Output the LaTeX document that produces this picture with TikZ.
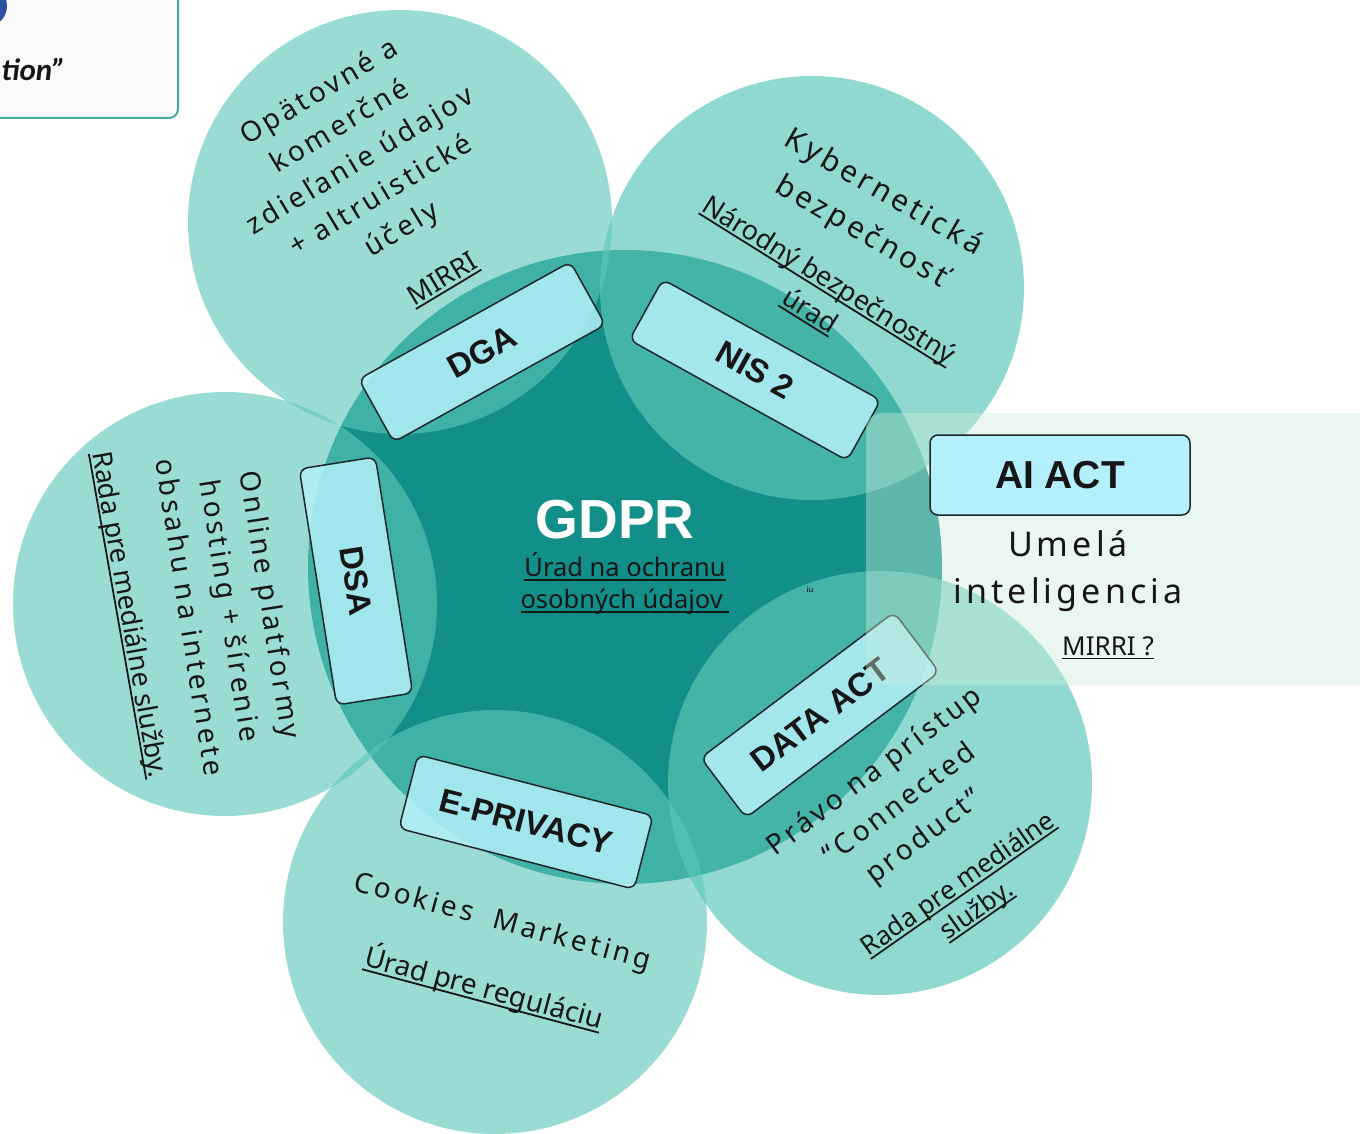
\documentclass[tikz,border=0pt]{standalone}
\usepackage{fontspec}
\setmainfont{Noto Sans}
\newfontfamily\trkfont[LetterSpace=12]{Noto Sans}
\newfontfamily\labfont{Liberation Sans}
\newfontfamily\calfont{Carlito}
\definecolor{centerc}{RGB}{18,143,136}
\definecolor{outerc}{RGB}{92,199,186}
\definecolor{lblc}{RGB}{180,240,250}
\definecolor{aic}{RGB}{179,240,252}
\definecolor{panelc}{RGB}{204,236,219}
\definecolor{txt}{RGB}{22,22,22}
\definecolor{boxline}{RGB}{30,40,40}
\definecolor{tlborder}{RGB}{64,170,164}
\definecolor{logoblue}{RGB}{45,80,160}
\newcommand\myul[1]{\setbox0=\hbox{#1}\rlap{\rule[-0.16em]{\wd0}{0.065em}}\box0}
\begin{document}
\begin{tikzpicture}[x=1pt,y=-1pt,
  outer/.style={circle,minimum size=424pt,inner sep=0pt,fill=outerc,fill opacity=#1,draw=none},
  outer/.default=0.62,
  lbl/.style={draw=boxline,line width=1.5pt,fill=lblc,fill opacity=0.85,text opacity=1,
    rounded corners=8pt,inner sep=0pt,text=txt,font=\labfont\bfseries\fontsize{33}{36}\selectfont},
  trkt/.style={align=center,inner sep=0pt,text=txt,font=\trkfont\fontsize{28}{40}\selectfont},
  agency/.style={align=center,inner sep=0pt,text=txt,font=\fontsize{26}{33}\selectfont}]
\useasboundingbox (0,0) rectangle (1360,1134);
\clip (0,0) rectangle (1360,1134);
% top-left partial box
\draw[fill={rgb,255:red,250;green,250;blue,250},draw=tlborder,line width=2pt,rounded corners=9pt] (-30,-30) rectangle (178,118);
\fill[logoblue] (-14,6) circle (21);
\node[anchor=base east,inner sep=0pt,text=txt,font=\calfont\bfseries\itshape\fontsize{31}{34}\selectfont] (tion) at (66,81) {tion”};
% central circle
\node[circle,minimum size=634pt,inner sep=0pt,fill=centerc] (gdprc) at (625,567) {};
% outer circles
\node[outer] (c1) at (400,222) {};
\node[outer=0.68] (c2) at (812,288) {};
\node[outer] (c3) at (225,604) {};
\node[outer] (c4) at (495,922) {};
\node[outer=0.68] (c5) at (880,783) {};
% circle texts
\node[trkt,rotate=31] (t1) at (361,162) {Opätovné a\\komerčné\\zdieľanie údajov\\+ altruistické\\účely};
\node[agency,rotate=31,font=\fontsize{27}{33}\selectfont] (a1) at (443,280) {\myul{MIRRI}};
\node[trkt,rotate=-30,font=\trkfont\fontsize{30}{45}\selectfont] (t2) at (872,213) {Kybernetická\\bezpečnosť};
\node[agency,rotate=-32,font=\fontsize{27}{36}\selectfont] (a2) at (819,296) {\myul{Národný bezpečnostný}\\\myul{úrad}};
\node[trkt,rotate=-81,font=\trkfont\fontsize{28}{41}\selectfont] (t3) at (231,611) {Online platformy\\hosting + šírenie\\obsahu na internete};
\node[agency,rotate=-80,font=\fontsize{27}{33}\selectfont] (a3) at (128,615) {\myul{Rada pre mediálne služby.}};
\node[trkt,rotate=-15] (t4) at (502,923) {Cookies\hspace{10pt} Marketing};
\node[agency,rotate=-15,font=\fontsize{28}{33}\selectfont] (a4) at (484,988) {\myul{Úrad pre reguláciu}};
\node[trkt,rotate=37,font=\trkfont\fontsize{28}{41}\selectfont] (t5) at (900,805) {Právo na prístup\\“Connected\\product”};
\node[agency,rotate=35,font=\fontsize{26}{32}\selectfont] (a5) at (968,898) {\myul{Rada pre mediálne}\\\myul{služby.}};
% label boxes
\node[lbl,minimum width=242pt,minimum height=72pt,rotate=29] (dga) at (482,352) {DGA};
\node[lbl,minimum width=249pt,minimum height=69pt,rotate=-29] (nis) at (755,370) {NIS 2};
\node[lbl,minimum width=239pt,minimum height=77pt,rotate=-81] (dsa) at (356,581) {DSA};
\node[lbl,minimum width=243pt,minimum height=76pt,rotate=-14.5] (epr) at (526,822) {E-PRIVACY};
\node[lbl,minimum width=242pt,minimum height=75pt,rotate=37] (dact) at (820,715) {DATA ACT};
% GDPR
\node[inner sep=0pt,text=white,font=\labfont\bfseries\fontsize{55}{60}\selectfont] (gdpr) at (615,520) {GDPR};
\node[agency,font=\fontsize{25.5}{32}\selectfont] (uoou) at (625,584) {\myul{Úrad na ochranu}\\\myul{osobných údajov\ }};
\node[inner sep=0pt,text=txt,font=\fontsize{8}{9}\selectfont] (iu) at (810,590) {iu};
% AI ACT panel
\node[fill=panelc,fill opacity=0.41,rounded corners=16pt,inner sep=0pt,minimum width=560pt,minimum height=272pt] (panel) at (1146,549) {};
\node[draw=boxline,line width=1.5pt,fill=aic,rounded corners=8pt,inner sep=0pt,minimum width=260pt,minimum height=80pt,text=txt,font=\labfont\bfseries\fontsize{39}{42}\selectfont] (ai) at (1060,475) {AI ACT};
\node[trkt,font=\trkfont\fontsize{34}{47}\selectfont] (aitxt) at (1068,571) {Umelá\\inteligencia};
\node[agency,font=\fontsize{26}{32}\selectfont] (aiag) at (1108,648) {\myul{MIRRI ?}};
\end{tikzpicture}
\end{document}
